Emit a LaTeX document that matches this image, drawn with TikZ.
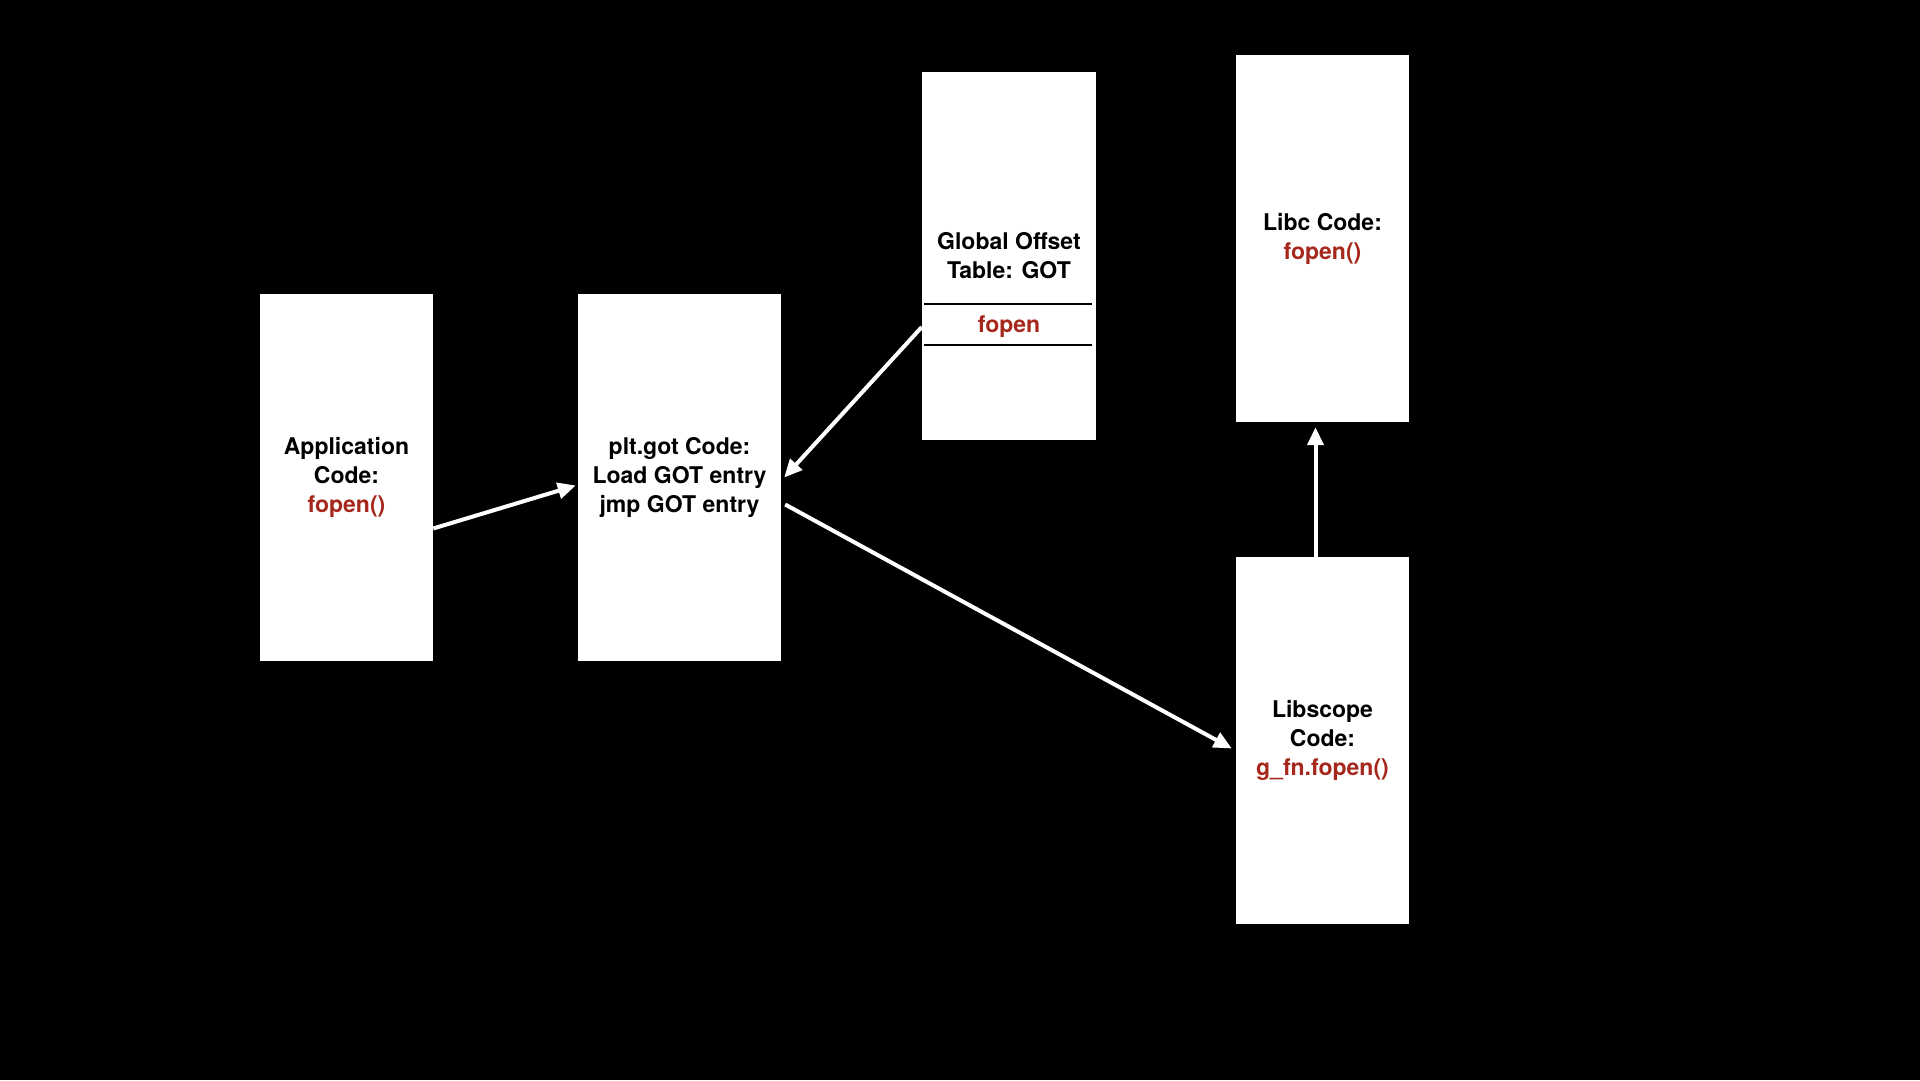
\documentclass[tikz,border=0pt]{standalone}
\usepackage{fontspec}
\setmainfont{TeX Gyre Heros}
\usepackage{tikz}
\usepackage{xcolor}
\usetikzlibrary{arrows.meta,positioning,calc}
\definecolor{fnred}{RGB}{166,40,28}

\begin{document}
\begin{tikzpicture}[x=1pt, y=-1pt,
    codebox/.style={draw=none, fill=white, align=center, inner sep=0pt,
        font=\bfseries\fontsize{23}{29}\selectfont},
    flow/.style={white, line width=4pt, -{Triangle[length=18pt,width=16pt]}}]
    % Background
    \fill[black] (0,0) rectangle (1920,1080);
    \useasboundingbox (0,0) rectangle (1920,1080);

    % Boxes
    \node[codebox, minimum width=173pt, minimum height=367pt] (app) at (346.5,477.5)
        {Application\\Code:\\\textcolor{fnred}{fopen()}};
    \node[codebox, minimum width=203pt, minimum height=367pt] (plt) at (679.5,477.5)
        {plt.got Code:\\Load GOT entry\\jmp GOT entry};
    \node[codebox, minimum width=174pt, minimum height=368pt] (got) at (1009,256)
        {Global Offset\\Table: GOT};
    \node[codebox, minimum width=173pt, minimum height=367pt] (libc) at (1322.5,238.5)
        {Libc Code:\\\textcolor{fnred}{fopen()}};
    \node[codebox, minimum width=173pt, minimum height=367pt] (libscope) at (1322.5,740.5)
        {Libscope\\Code:\\\textcolor{fnred}{g\_fn.fopen()}};

    % GOT entry
    \node[codebox, fill=none, text=fnred] (gotfopen) at ($(got.center)+(0,71)$) {fopen};
    \draw[black, line width=2pt] ($(got.west)+(2,48)$) -- ($(got.east)+(-4,48)$);
    \draw[black, line width=2pt] ($(got.west)+(2,89)$) -- ($(got.east)+(-4,89)$);

    % Arrows
    \draw[flow] ($(app.east)+(0,51)$) -- ($(plt.west)+(-2,8)$);
    \draw[flow] (got.west |- gotfopen) -- ($(plt.east)+(3,0)$);
    \draw[flow] ($(plt.east)+(4,27)$) -- ($(libscope.west)+(-4,8)$);
    \draw[flow] ($(libscope.north)+(-7,0)$) -- ($(libc.south)+(-7,5)$);
\end{tikzpicture}
\end{document}
